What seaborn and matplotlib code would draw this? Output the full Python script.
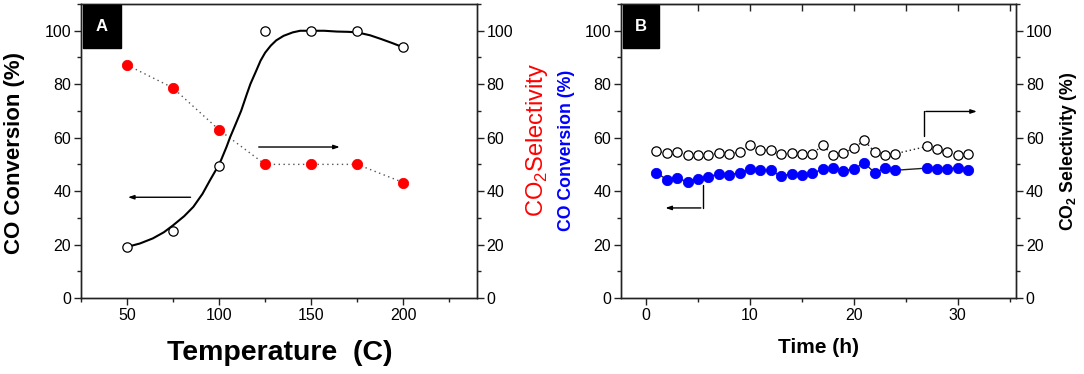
import matplotlib
matplotlib.use("Agg")
import matplotlib.pyplot as plt
import seaborn as sns
import numpy as np
from matplotlib.ticker import MultipleLocator
from matplotlib.patches import Rectangle

# Panel A: temperature series
temp = [50, 75, 100, 125, 150, 175, 200]
co_conv_a = [19.1, 25.1, 49.3, 100.0, 100.0, 100.0, 93.8]
co2_sel_a = [87.2, 78.6, 62.9, 50.0, 50.0, 50.0, 43.2]

# fitted curve through the conversion points
fit_temp = [50, 57, 64, 70, 75, 81, 86, 91, 95, 98, 101, 104, 106, 109, 112, 115, 117, 120,
            122.5, 125, 128, 131, 135, 140, 144, 150, 157, 164, 170, 175, 182, 188, 194, 200]
fit_conv = [19.1, 20.4, 22.3, 24.6, 27.2, 30.6, 34.1, 39.0, 44.0, 47.6, 51.5, 56.5, 60.2, 65.1,
            70.1, 76.2, 80.1, 84.8, 88.8, 91.8, 94.4, 96.4, 98.1, 99.4, 100.0, 100.0, 100.0,
            99.7, 99.6, 99.4, 98.3, 96.9, 95.4, 93.8]

# Panel B: time-on-stream series
hours = [1, 2, 3, 4, 5, 6, 7, 8, 9, 10, 11, 12, 13, 14, 15, 16, 17, 18, 19, 20, 21, 22, 23, 24,
         27, 28, 29, 30, 31]
co_conv_b = [46.9, 44.3, 45.0, 43.4, 44.7, 45.3, 46.5, 46.1, 46.8, 48.1, 47.8, 47.8, 45.5, 46.5,
             46.1, 46.8, 48.1, 48.5, 47.5, 48.4, 50.5, 46.9, 48.6, 47.8, 48.6, 48.4, 48.4, 48.6, 47.8]
co2_sel_b = [55.0, 54.2, 54.6, 53.6, 53.4, 53.6, 54.2, 53.8, 54.7, 57.1, 55.5, 55.2, 53.7, 54.2,
             54.0, 54.0, 57.1, 53.4, 54.2, 56.1, 59.0, 54.6, 53.4, 54.0, 56.7, 55.6, 54.6, 53.4, 54.0]

sns.set_style("ticks")
plt.rcParams["font.family"] = ["Liberation Sans", "DejaVu Sans"]
plt.rcParams["mathtext.fontset"] = "custom"
plt.rcParams["mathtext.rm"] = "Liberation Sans"
plt.rcParams["mathtext.bf"] = "Liberation Sans:bold"
plt.rcParams["text.color"] = "black"
plt.rcParams["xtick.labelcolor"] = "black"
plt.rcParams["ytick.labelcolor"] = "black"

fig = plt.figure(figsize=(10.84, 3.74), dpi=100)
ax_a = fig.add_axes([0.0747, 0.2032, 0.3653, 0.786])
ax_b = fig.add_axes([0.5729, 0.2032, 0.3644, 0.786])
ax_a2 = ax_a.twinx()
ax_b2 = ax_b.twinx()

spine_col = "#222222"
tick_size = 11.5
arrow_style = dict(arrowstyle="-|>,head_length=0.35,head_width=0.12", color="black", lw=1.0)


def style_axis(ax, right=False):
    for s in ax.spines.values():
        s.set_visible(True)
        s.set_color(spine_col)
        s.set_linewidth(1.0)
    ax.set_ylim(0, 110)
    ax.yaxis.set_major_locator(MultipleLocator(20))
    ax.yaxis.set_minor_locator(MultipleLocator(10))
    ax.tick_params(axis="both", which="major", labelsize=tick_size, length=5, width=1,
                   color=spine_col, direction="out", pad=2)
    ax.tick_params(axis="both", which="minor", length=3, width=1, color=spine_col,
                   direction="out")
    if right:
        ax.tick_params(axis="y", which="both", left=False, right=True,
                       labelleft=False, labelright=True)
    else:
        ax.tick_params(axis="y", which="both", left=True, right=False)


def panel_tag(ax, letter, x1):
    ax.add_patch(Rectangle((0.004, 0.851), x1 - 0.004, 0.146, transform=ax.transAxes,
                           facecolor="black", edgecolor="black", clip_on=False, zorder=5))
    ax.text((0.004 + x1) / 2, 0.924, letter, transform=ax.transAxes, ha="center",
            va="center", fontsize=12, fontweight="bold", color="white", zorder=6)


# ---------- Panel A ----------
sns.lineplot(x=temp, y=co2_sel_a, ax=ax_a2, color="#555555", linestyle=(0, (1, 2.5)),
             linewidth=1.0)
sns.scatterplot(x=temp, y=co2_sel_a, ax=ax_a2, color="#ff0000", edgecolor="#ff0000",
                s=55, zorder=3)
sns.lineplot(x=fit_temp, y=fit_conv, ax=ax_a, color="black", linewidth=1.5)
sns.scatterplot(x=temp, y=co_conv_a, ax=ax_a, facecolor="white", edgecolor="black",
                linewidth=0.9, s=45, zorder=3)
ax_a.set_zorder(ax_a2.get_zorder() + 1)
ax_a.patch.set_visible(False)

for ax, right in [(ax_a, False), (ax_a2, True)]:
    style_axis(ax, right)
ax_a.set_xlim(25, 240)
ax_a.xaxis.set_major_locator(MultipleLocator(50))
ax_a.xaxis.set_minor_locator(MultipleLocator(25))
ax_a.tick_params(axis="x", which="both", top=False, bottom=True)

ax_a.annotate("", xy=(49, 37.7), xytext=(86, 37.7), arrowprops=arrow_style)
ax_a.annotate("", xy=(167, 56.5), xytext=(120, 56.5), arrowprops=arrow_style)

panel_tag(ax_a, "A", 0.100)

ax_a.set_xlabel("")
ax_a.set_ylabel("")
ax_a2.set_ylabel("")
ax_a.text(0.503, -0.187, "Temperature  (C)", transform=ax_a.transAxes, ha="center",
          va="center", fontsize=20.5, fontweight="bold")
ax_a.text(-0.167, 0.493, "CO Conversion (%)", transform=ax_a.transAxes, ha="center",
          va="center", rotation=90, fontsize=16, fontweight="bold")
ax_a.text(1.152, 0.537, r"CO$_\mathregular{2}$Selectivity", transform=ax_a.transAxes,
          ha="center", va="center", rotation=90, fontsize=17, color="#ff0000")

# ---------- Panel B ----------
sns.lineplot(x=hours, y=co_conv_b, ax=ax_b, color="#222222", linewidth=1.0)
sns.scatterplot(x=hours, y=co_conv_b, ax=ax_b, color="#0000ff", edgecolor="#0000ff",
                s=55, zorder=3)
sns.lineplot(x=hours, y=co2_sel_b, ax=ax_b2, color="#222222", linestyle=(0, (1, 2)),
             linewidth=1.0)
sns.scatterplot(x=hours, y=co2_sel_b, ax=ax_b2, facecolor="white", edgecolor="black",
                linewidth=0.9, s=45, zorder=3)

for ax, right in [(ax_b, False), (ax_b2, True)]:
    style_axis(ax, right)
ax_b.set_xlim(-2.4, 35.6)
ax_b.xaxis.set_major_locator(MultipleLocator(10))
ax_b.xaxis.set_minor_locator(MultipleLocator(5))
ax_b.tick_params(axis="x", which="both", top=False, bottom=True)

# inward ticks along the top edge of panel B
top_b = ax_b.secondary_xaxis("top")
top_b.xaxis.set_major_locator(MultipleLocator(10))
top_b.xaxis.set_minor_locator(MultipleLocator(5))
top_b.tick_params(axis="x", which="major", direction="in", length=5, width=1,
                  color=spine_col, labeltop=False)
top_b.tick_params(axis="x", which="minor", direction="in", length=5, width=1,
                  color=spine_col)
top_b.spines["top"].set_color(spine_col)

# bent pointer arrows
ax_b.plot([5.5, 5.5], [42.2, 33.7], color="black", lw=1.0)
ax_b.annotate("", xy=(1.6, 33.7), xytext=(5.55, 33.7), arrowprops=arrow_style)
ax_b.plot([26.7, 26.7], [60.8, 69.8], color="black", lw=1.0)
ax_b.annotate("", xy=(32.1, 69.8), xytext=(26.65, 69.8), arrowprops=arrow_style)

panel_tag(ax_b, "B", 0.096)

ax_b.set_xlabel("")
ax_b.set_ylabel("")
ax_b2.set_ylabel("")
ax_b.text(0.499, -0.167, "Time (h)", transform=ax_b.transAxes, ha="center",
          va="center", fontsize=15, fontweight="bold")
ax_b.text(-0.137, 0.503, "CO Conversion (%)", transform=ax_b.transAxes, ha="center",
          va="center", rotation=90, fontsize=12.7, fontweight="bold", color="#0000ff")
ax_b.text(1.132, 0.5, r"CO$_\mathregular{2}$ Selectivity (%)", transform=ax_b.transAxes,
          ha="center", va="center", rotation=90, fontsize=12.7, fontweight="bold",
          color="black")

fig.savefig("out.png", dpi=100)
